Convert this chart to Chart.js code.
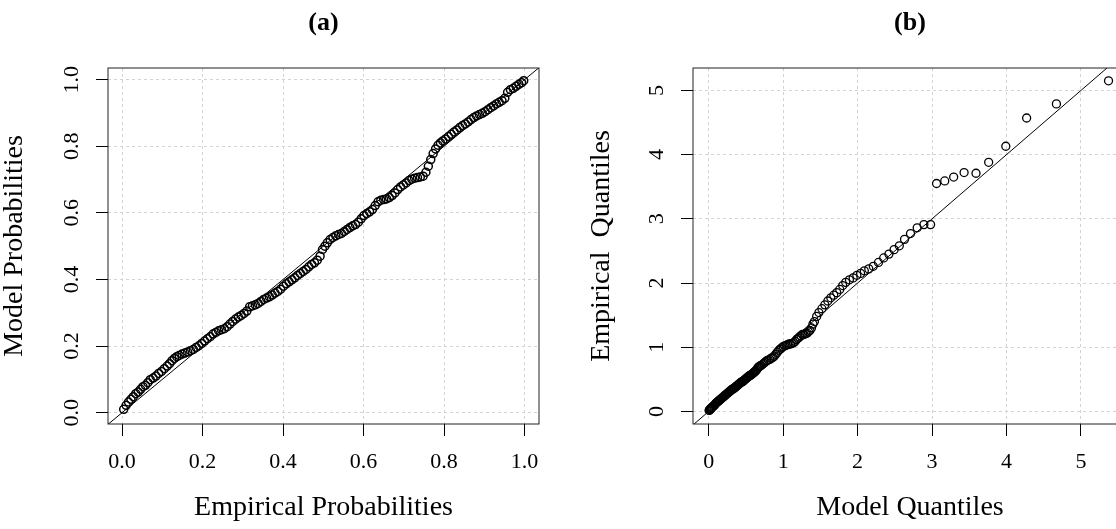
<!DOCTYPE html>
<html>
<head>
<meta charset="utf-8">
<script src="https://cdn.jsdelivr.net/npm/chart.js@4.4.0/dist/chart.umd.min.js"></script>
<style>
  html, body { margin: 0; padding: 0; background: #fff; overflow: hidden; }
  #wrap { position: relative; width: 1116px; height: 529px; overflow: hidden; }
  canvas { position: absolute; top: 0; }
  #ppChart { left: 0; }
  #qqChart { left: 558px; }
</style>
</head>
<body>
<div id="wrap">
  <canvas id="ppChart" width="558" height="529"></canvas>
  <canvas id="qqChart" width="600" height="529"></canvas>
</div>
<script>
// Tick values and labels
const ppTicks = [0, 0.2, 0.4, 0.6, 0.8, 1.0];
const ppTickLabels = ['0.0', '0.2', '0.4', '0.6', '0.8', '1.0'];
const qqTicks = [0, 1, 2, 3, 4, 5];
const qqTickLabels = ['0', '1', '2', '3', '4', '5'];

// y = x reference line end points
const refLine = [-1, 7];

// (a) P-P plot
const ppEmpirical = [0.004,0.010,0.016,0.022,0.028,0.034,0.040,0.046,0.052,0.058,0.064,0.070,0.077,0.084,0.091,0.098,
  0.105,0.112,0.118,0.124,0.130,0.136,0.142,0.149,0.156,0.163,0.170,0.177,0.184,0.191,0.198,0.205,0.212,0.219,0.226,
  0.233,0.240,0.247,0.254,0.261,0.268,0.275,0.282,0.289,0.296,0.303,0.310,0.317,0.324,0.331,0.338,0.345,0.352,0.359,
  0.366,0.373,0.380,0.387,0.394,0.401,0.408,0.415,0.422,0.429,0.436,0.443,0.450,0.457,0.464,0.471,0.478,0.485,0.492,
  0.498,0.504,0.510,0.517,0.524,0.531,0.538,0.545,0.552,0.559,0.566,0.573,0.580,0.587,0.594,0.601,0.608,0.615,0.622,
  0.629,0.636,0.643,0.650,0.657,0.664,0.671,0.678,0.685,0.692,0.699,0.706,0.713,0.720,0.727,0.734,0.741,0.748,0.755,
  0.761,0.767,0.773,0.779,0.785,0.791,0.797,0.804,0.811,0.818,0.825,0.832,0.839,0.846,0.853,0.860,0.867,0.874,0.881,
  0.888,0.895,0.902,0.909,0.916,0.923,0.930,0.937,0.944,0.951,0.958,0.965,0.972,0.979,0.986,0.993,0.998];
const ppModel = [0.010,0.022,0.032,0.040,0.048,0.057,0.062,0.070,0.078,0.082,0.090,0.099,0.104,0.110,0.118,0.124,
  0.132,0.140,0.147,0.156,0.163,0.168,0.172,0.176,0.179,0.182,0.186,0.190,0.196,0.201,0.208,0.215,0.222,0.228,0.236,
  0.241,0.246,0.249,0.252,0.258,0.266,0.274,0.281,0.287,0.292,0.298,0.305,0.318,0.321,0.324,0.328,0.334,0.340,0.344,
  0.348,0.353,0.359,0.364,0.371,0.380,0.387,0.393,0.399,0.405,0.412,0.418,0.424,0.430,0.438,0.445,0.450,0.458,0.470,
  0.490,0.500,0.510,0.520,0.526,0.531,0.535,0.538,0.544,0.550,0.556,0.561,0.565,0.572,0.582,0.592,0.598,0.603,0.610,
  0.622,0.633,0.638,0.640,0.642,0.646,0.652,0.660,0.670,0.678,0.684,0.690,0.697,0.701,0.704,0.706,0.708,0.710,0.722,
  0.740,0.760,0.778,0.792,0.803,0.810,0.816,0.822,0.829,0.836,0.843,0.849,0.856,0.862,0.867,0.873,0.880,0.886,0.891,
  0.895,0.899,0.904,0.910,0.916,0.921,0.927,0.932,0.937,0.944,0.962,0.970,0.974,0.980,0.986,0.991,0.997];

// (b) Q-Q plot
const qqModel = [
  0.005,0.01,0.015,0.02,0.025,0.03,0.035,0.04,0.05,0.06,
  0.07,0.08,0.09,0.10,0.11,0.12,0.13,0.14,0.15,0.16,
  0.17,0.18,0.19,0.20,0.21,0.22,0.23,0.24,0.25,0.26,
  0.27,0.28,0.29,0.30,0.31,0.32,0.33,0.34,0.35,0.36,
  0.37,0.38,0.39,0.40,0.41,0.42,0.43,0.44,0.45,0.46,
  0.47,0.48,0.49,0.50,0.51,0.52,0.53,0.54,0.55,0.56,
  0.57,0.58,0.59,0.60,0.61,0.62,0.63,0.64,0.65,0.66,
  0.67,0.68,0.69,0.70,0.72,0.74,0.76,0.78,0.80,0.82,
  0.84,0.86,0.88,0.90,0.92,0.94,0.96,0.98,1.00,1.02,
  1.04,1.06,1.08,1.10,1.12,1.14,1.16,1.18,1.20,1.22,
  1.24,1.26,1.28,1.30,1.32,1.34,1.36,1.38,1.40,1.42,
  1.45,1.48,1.52,1.56,1.60,1.64,1.68,1.72,1.76,1.80,
  1.84,1.89,1.94,1.99,2.04,2.09,2.15,2.21,2.28,2.35,
  2.42,2.49,2.56,2.63,2.71,2.80,2.89,2.98,3.06,3.17,
  3.29,3.43,3.59,3.76,3.99,4.27,4.67,5.37];
const qqEmpirical = [
  0.015,0.02,0.03,0.035,0.04,0.045,0.05,0.06,0.07,0.08,
  0.09,0.10,0.12,0.13,0.14,0.15,0.16,0.17,0.18,0.19,
  0.20,0.21,0.22,0.23,0.24,0.25,0.26,0.27,0.28,0.29,
  0.30,0.31,0.32,0.33,0.34,0.35,0.35,0.36,0.37,0.38,
  0.39,0.40,0.41,0.42,0.43,0.44,0.45,0.46,0.46,0.47,
  0.48,0.49,0.50,0.51,0.52,0.53,0.54,0.55,0.56,0.56,
  0.57,0.58,0.59,0.60,0.61,0.62,0.63,0.64,0.66,0.68,
  0.69,0.70,0.71,0.71,0.73,0.75,0.77,0.79,0.80,0.81,
  0.83,0.84,0.86,0.89,0.92,0.95,0.97,0.99,1.01,1.02,
  1.03,1.04,1.05,1.05,1.06,1.07,1.09,1.12,1.14,1.16,
  1.18,1.20,1.20,1.21,1.22,1.24,1.26,1.30,1.36,1.40,
  1.48,1.54,1.60,1.66,1.72,1.77,1.81,1.85,1.90,1.96,
  2.01,2.05,2.08,2.12,2.15,2.19,2.22,2.26,2.32,2.39,
  2.45,2.52,2.58,2.68,2.77,2.86,2.91,2.91,3.55,3.59,
  3.65,3.72,3.71,3.88,4.13,4.57,4.79,5.15];

const SERIF = '"Liberation Serif", "Times New Roman", serif';
const GRID_COLOR = '#d3d3d3';

const toPoints = (xs, ys) => xs.map((x, i) => ({ x, y: ys[i] }));

// R style box, panel title and rotated y tick labels
const framePlugin = {
  id: 'frame',
  afterDraw(chart, args, opts) {
    const { ctx, chartArea: a } = chart;
    ctx.save();
    ctx.strokeStyle = '#222';
    ctx.lineWidth = 1;
    ctx.strokeRect(a.left, a.top, a.right - a.left, a.bottom - a.top);

    ctx.fillStyle = '#000';
    ctx.textAlign = 'center';
    ctx.textBaseline = 'middle';
    ctx.font = 'bold 26px ' + SERIF;
    ctx.fillText(opts.title, (a.left + a.right) / 2, 23);

    const yScale = chart.scales.y;
    ctx.font = '22px ' + SERIF;
    opts.ticks.forEach((v, i) => {
      ctx.save();
      ctx.translate(a.left - 36, yScale.getPixelForValue(v));
      ctx.rotate(-Math.PI / 2);
      ctx.fillText(opts.labels[i], 0, 0);
      ctx.restore();
    });
    ctx.restore();
  }
};

const axisOptions = (min, max, ticks, labels, title, fit, horizontal, titlePad) => ({
  type: 'linear',
  min: min,
  max: max,
  afterBuildTicks: s => { s.ticks = ticks.map(v => ({ value: v })); },
  afterFit: fit,
  grid: { color: GRID_COLOR, lineWidth: 1, tickLength: 12, tickColor: '#000', tickWidth: 1, tickBorderDash: [] },
  border: { display: false, dash: [3, 3] },
  ticks: {
    display: horizontal,
    color: '#000',
    padding: 15,
    font: { family: SERIF, size: 22, lineHeight: 1 },
    callback: v => labels[ticks.indexOf(v)]
  },
  title: {
    display: true,
    text: title,
    color: '#000',
    font: { family: SERIF, size: 28, lineHeight: 1 },
    padding: titlePad
  }
});

const makeChart = (id, cfg) => new Chart(document.getElementById(id), {
  type: 'scatter',
  data: {
    datasets: [
      {
        data: toPoints(refLine, refLine),
        showLine: true,
        borderColor: '#000',
        borderWidth: 1,
        pointRadius: 0
      },
      {
        data: cfg.points,
        pointRadius: 4,
        pointBorderWidth: cfg.pointWidth,
        pointBorderColor: '#000',
        pointBackgroundColor: 'rgba(0,0,0,0)'
      }
    ]
  },
  options: {
    responsive: false,
    animation: false,
    devicePixelRatio: 1,
    layout: { padding: { left: 0, right: cfg.padRight, top: 68, bottom: 0 } },
    plugins: {
      legend: { display: false },
      tooltip: { enabled: false },
      frame: { title: cfg.title, ticks: cfg.ticks, labels: cfg.labels }
    },
    scales: {
      x: axisOptions(cfg.xRange[0], cfg.xRange[1], cfg.ticks, cfg.labels, cfg.xTitle,
        s => { s.height = 105; }, true, { top: 0, bottom: 7 }),
      y: axisOptions(cfg.yRange[0], cfg.yRange[1], cfg.ticks, cfg.labels, cfg.yTitle,
        s => { s.width = cfg.yAxisWidth; }, false, { top: cfg.yTitlePad, bottom: 0 })
    }
  },
  plugins: [framePlugin]
});

makeChart('ppChart', {
  title: '(a)',
  points: toPoints(ppEmpirical, ppModel),
  pointWidth: 1.5,
  ticks: ppTicks,
  labels: ppTickLabels,
  xRange: [-0.035, 1.036],
  yRange: [-0.034, 1.035],
  xTitle: 'Empirical Probabilities',
  yTitle: 'Model Probabilities',
  yAxisWidth: 108,
  yTitlePad: 1,
  padRight: 19
});

makeChart('qqChart', {
  title: '(b)',
  points: toPoints(qqModel, qqEmpirical),
  pointWidth: 1.3,
  ticks: qqTicks,
  labels: qqTickLabels,
  xRange: [-0.211, 5.618],
  yRange: [-0.196, 5.349],
  xTitle: 'Model Quantiles',
  yTitle: 'Empirical  Quantiles',
  yAxisWidth: 135,
  yTitlePad: 30,
  padRight: 31
});
</script>
</body>
</html>
